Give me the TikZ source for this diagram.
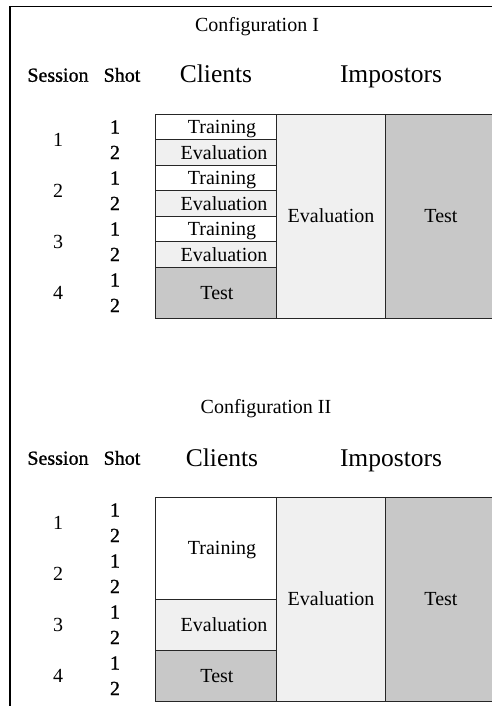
\documentclass[tikz,border=0pt]{standalone}
\usepackage{fontspec}
\setmainfont{Liberation Serif}
\newfontface\semib[FakeBold=1]{Liberation Serif}
\definecolor{evalgray}{HTML}{F0F0F0}
\definecolor{testgray}{HTML}{C8C8C8}
\begin{document}
\begin{tikzpicture}
[x=1pt,y=-1pt, t/.style={font=\fontsize{20}{22}\selectfont,inner sep=0pt,text height=13.5pt,text depth=0pt},
b/.style={t,font=\fontsize{20}{22}\semib},
h/.style={font=\fontsize{25.5}{28}\selectfont,inner sep=0pt,text height=17pt,text depth=0pt},
c/.style={draw=black!85,line width=.8pt}]
\clip (0,0) rectangle (492,706);
\draw[line width=1.6pt] (10,706)--(10,6.5)--(492,6.5);
% titles and column heads
\node[t](confA) at (257,25){Configuration I};\node[t](confB) at (266,407){Configuration II};
\node[h](cliA) at (216,74.5){Clients};\node[h](impA) at (391,74.5){Impostors};
\node[h](cliB) at (222,458){Clients};\node[h](impB) at (391,458){Impostors};
% session and shot numbers, same for both tables
\foreach \T/\n in {114/A,497/B}{
\node[b](sess\n) at (58,\T-39){Session};\node[b](shot\n) at (122,\T-39){Shot};
\foreach \s in {1,...,4}{
\node[t](s\n\s) at (58,\T+51*\s-25.5){\s};
\node[b](p\n\s a) at (115,\T+51*\s-38.25){1};\node[b](p\n\s b) at (115,\T+51*\s-12.75){2};}}
% first table
\foreach \r in {0,1,2}{
\draw[c](155,114+51*\r) rectangle (276,139.5+51*\r);
\draw[c,fill=evalgray](155,139.5+51*\r) rectangle (276,165+51*\r);
\node[t](trA\r) at (222,126.75+51*\r){Training};\node[t](evA\r) at (224,152.25+51*\r){Evaluation};}
\draw[c,fill=testgray](155,267) rectangle (276,318);\node[t](teA) at (217,292.5){Test};
\draw[c,fill=evalgray](276,114) rectangle (385,318);\node[t](ievA) at (331,216){Evaluation};
\draw[c,fill=testgray](385,114) rectangle (497,318);\node[t](iteA) at (441,216){Test};
% second table
\draw[c](155,497) rectangle (276,599);\node[t](trB) at (222,548){Training};
\draw[c,fill=evalgray](155,599) rectangle (276,650);\node[t](evB) at (224,624.5){Evaluation};
\draw[c,fill=testgray](155,650) rectangle (276,701);\node[t](teB) at (217,675.5){Test};
\draw[c,fill=evalgray](276,497) rectangle (385,701);\node[t](ievB) at (331,599){Evaluation};
\draw[c,fill=testgray](385,497) rectangle (497,701);\node[t](iteB) at (441,599){Test};
\end{tikzpicture}
\end{document}
